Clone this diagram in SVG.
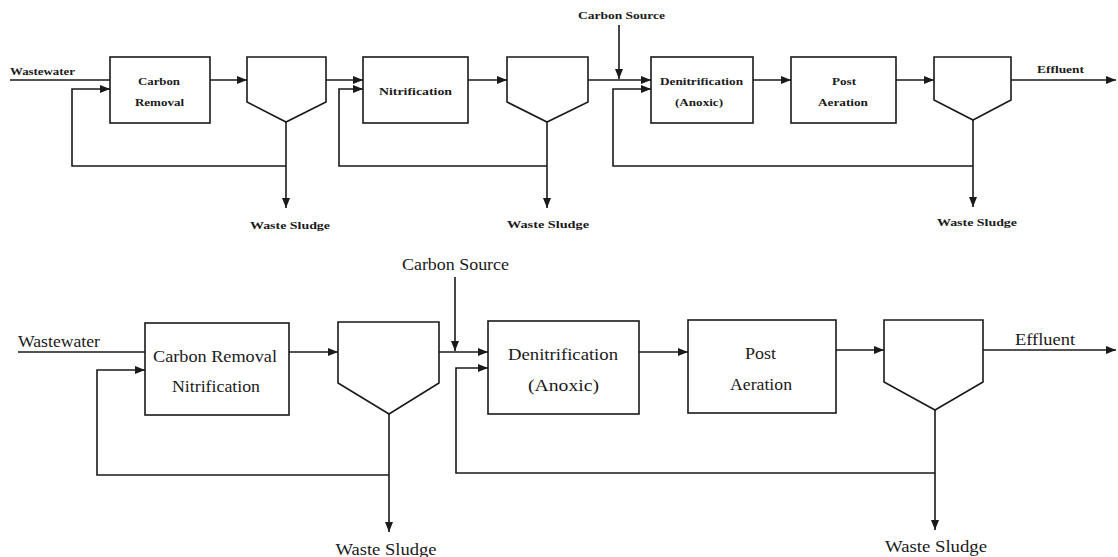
<svg xmlns="http://www.w3.org/2000/svg" width="1118" height="557" viewBox="0 0 1118 557">
<style>
.ln{fill:none;stroke:#1a1a1a;stroke-width:1.6}
.ar{fill:none;stroke:#1a1a1a;stroke-width:1.6;marker-end:url(#ah)}
.bx{fill:#fff;stroke:#1a1a1a;stroke-width:1.6}
.t1{font-family:"Liberation Serif",serif;font-size:10px;fill:#1a1a1a;text-anchor:middle;font-weight:bold}
.t2{font-family:"Liberation Serif",serif;font-size:16px;fill:#1a1a1a;text-anchor:middle}
</style>
<defs>
<marker id="ah" markerUnits="userSpaceOnUse" markerWidth="10" markerHeight="8" refX="10" refY="4" orient="auto">
<path d="M0,0 L10,4 L0,8 Z" fill="#1a1a1a"/>
</marker>
</defs>
<rect width="1118" height="557" fill="#fff"/>

<g id="connectors">
<!-- top row -->
<line class="ln" x1="10" y1="80" x2="110" y2="80"/>
<line class="ar" x1="210" y1="80" x2="247" y2="80"/>
<line class="ar" x1="326" y1="80" x2="363" y2="80"/>
<line class="ar" x1="286" y1="122" x2="286" y2="208"/>
<polyline class="ar" points="286,166 72,166 72,89 110,89"/>
<line class="ar" x1="468" y1="80" x2="507" y2="80"/>
<polyline class="ar" points="547,166 339,166 339,89 363,89"/>
<line class="ar" x1="547" y1="122" x2="547" y2="208"/>
<line class="ar" x1="588" y1="80" x2="651" y2="80"/>
<line class="ar" x1="619" y1="25" x2="619" y2="79"/>
<polyline class="ar" points="973,166 613,166 613,89 651,89"/>
<line class="ar" x1="753" y1="80" x2="791" y2="80"/>
<line class="ar" x1="896" y1="80" x2="934" y2="80"/>
<line class="ar" x1="1011" y1="80" x2="1116" y2="80"/>
<line class="ar" x1="973" y1="120" x2="973" y2="207"/>
<!-- bottom row -->
<line class="ln" x1="18" y1="352" x2="145" y2="352"/>
<line class="ar" x1="289" y1="352" x2="338" y2="352"/>
<line class="ar" x1="389" y1="414" x2="389" y2="532"/>
<polyline class="ar" points="389,475 97,475 97,370 145,370"/>
<line class="ar" x1="439" y1="352" x2="488" y2="352"/>
<line class="ar" x1="455" y1="277" x2="455" y2="351"/>
<polyline class="ar" points="935,473 456,473 456,368 488,368"/>
<line class="ar" x1="639" y1="352" x2="688" y2="352"/>
<line class="ar" x1="836" y1="350" x2="884" y2="350"/>
<line class="ar" x1="983" y1="350" x2="1116" y2="350"/>
<line class="ar" x1="935" y1="410" x2="935" y2="530"/>
</g>

<g id="top-wastewater"><text class="t1" x="42.5" y="75" textLength="65" lengthAdjust="spacingAndGlyphs">Wastewater</text></g>
<g id="top-carbon-removal">
<rect class="bx" x="110" y="57" width="100" height="66"/>
<text class="t1" x="159" y="85" textLength="42" lengthAdjust="spacingAndGlyphs">Carbon</text>
<text class="t1" x="159.5" y="106" textLength="49" lengthAdjust="spacingAndGlyphs">Removal</text>
</g>
<g id="top-clarifier-1"><polygon class="bx" points="247,57 326,57 326,102 286,122 247,102"/></g>
<g id="top-sludge-1"><text class="t1" x="290" y="229" textLength="80" lengthAdjust="spacingAndGlyphs">Waste Sludge</text></g>
<g id="top-nitrification">
<rect class="bx" x="363" y="57" width="105" height="66"/>
<text class="t1" x="415.5" y="95" textLength="73" lengthAdjust="spacingAndGlyphs">Nitrification</text>
</g>
<g id="top-clarifier-2"><polygon class="bx" points="507,57 588,57 588,102 547,122 507,102"/></g>
<g id="top-sludge-2"><text class="t1" x="548" y="228" textLength="82" lengthAdjust="spacingAndGlyphs">Waste Sludge</text></g>
<g id="top-carbon-source"><text class="t1" x="621.5" y="19" textLength="87" lengthAdjust="spacingAndGlyphs">Carbon Source</text></g>
<g id="top-denitrification">
<rect class="bx" x="651" y="57" width="102" height="66"/>
<text class="t1" x="701.5" y="85" textLength="83" lengthAdjust="spacingAndGlyphs">Denitrification</text>
<text class="t1" x="699" y="106" textLength="48" lengthAdjust="spacingAndGlyphs">(Anoxic)</text>
</g>
<g id="top-post-aeration">
<rect class="bx" x="791" y="57" width="105" height="66"/>
<text class="t1" x="844" y="85" textLength="24" lengthAdjust="spacingAndGlyphs">Post</text>
<text class="t1" x="843" y="106" textLength="50" lengthAdjust="spacingAndGlyphs">Aeration</text>
</g>
<g id="top-clarifier-3"><polygon class="bx" points="934,57 1011,57 1011,100 973,120 934,100"/></g>
<g id="top-effluent"><text class="t1" x="1060.5" y="73" textLength="47" lengthAdjust="spacingAndGlyphs">Effluent</text></g>
<g id="top-sludge-3"><text class="t1" x="977" y="226" textLength="80" lengthAdjust="spacingAndGlyphs">Waste Sludge</text></g>

<g id="bottom-wastewater"><text class="t2" x="59" y="347" textLength="82" lengthAdjust="spacingAndGlyphs">Wastewater</text></g>
<g id="bottom-carbon-removal-nitrification">
<rect class="bx" x="145" y="323" width="144" height="92"/>
<text class="t2" x="215" y="362" textLength="124" lengthAdjust="spacingAndGlyphs">Carbon Removal</text>
<text class="t2" x="216" y="392" textLength="88" lengthAdjust="spacingAndGlyphs">Nitrification</text>
</g>
<g id="bottom-clarifier-1"><polygon class="bx" points="338,322 439,322 439,383 389,414 338,383"/></g>
<g id="bottom-sludge-1"><text class="t2" x="386" y="555" textLength="101" lengthAdjust="spacingAndGlyphs">Waste Sludge</text></g>
<g id="bottom-carbon-source"><text class="t2" x="455.5" y="270" textLength="107" lengthAdjust="spacingAndGlyphs">Carbon Source</text></g>
<g id="bottom-denitrification">
<rect class="bx" x="488" y="321" width="151" height="93"/>
<text class="t2" x="563" y="360" textLength="110" lengthAdjust="spacingAndGlyphs">Denitrification</text>
<text class="t2" x="563.5" y="391" textLength="71" lengthAdjust="spacingAndGlyphs">(Anoxic)</text>
</g>
<g id="bottom-post-aeration">
<rect class="bx" x="688" y="320" width="148" height="93"/>
<text class="t2" x="760.5" y="359" textLength="31" lengthAdjust="spacingAndGlyphs">Post</text>
<text class="t2" x="761" y="390" textLength="62" lengthAdjust="spacingAndGlyphs">Aeration</text>
</g>
<g id="bottom-clarifier-2"><polygon class="bx" points="884,320 983,320 983,382 935,410 884,382"/></g>
<g id="bottom-effluent"><text class="t2" x="1045" y="345" textLength="60" lengthAdjust="spacingAndGlyphs">Effluent</text></g>
<g id="bottom-sludge-2"><text class="t2" x="936" y="552" textLength="102" lengthAdjust="spacingAndGlyphs">Waste Sludge</text></g>
</svg>
